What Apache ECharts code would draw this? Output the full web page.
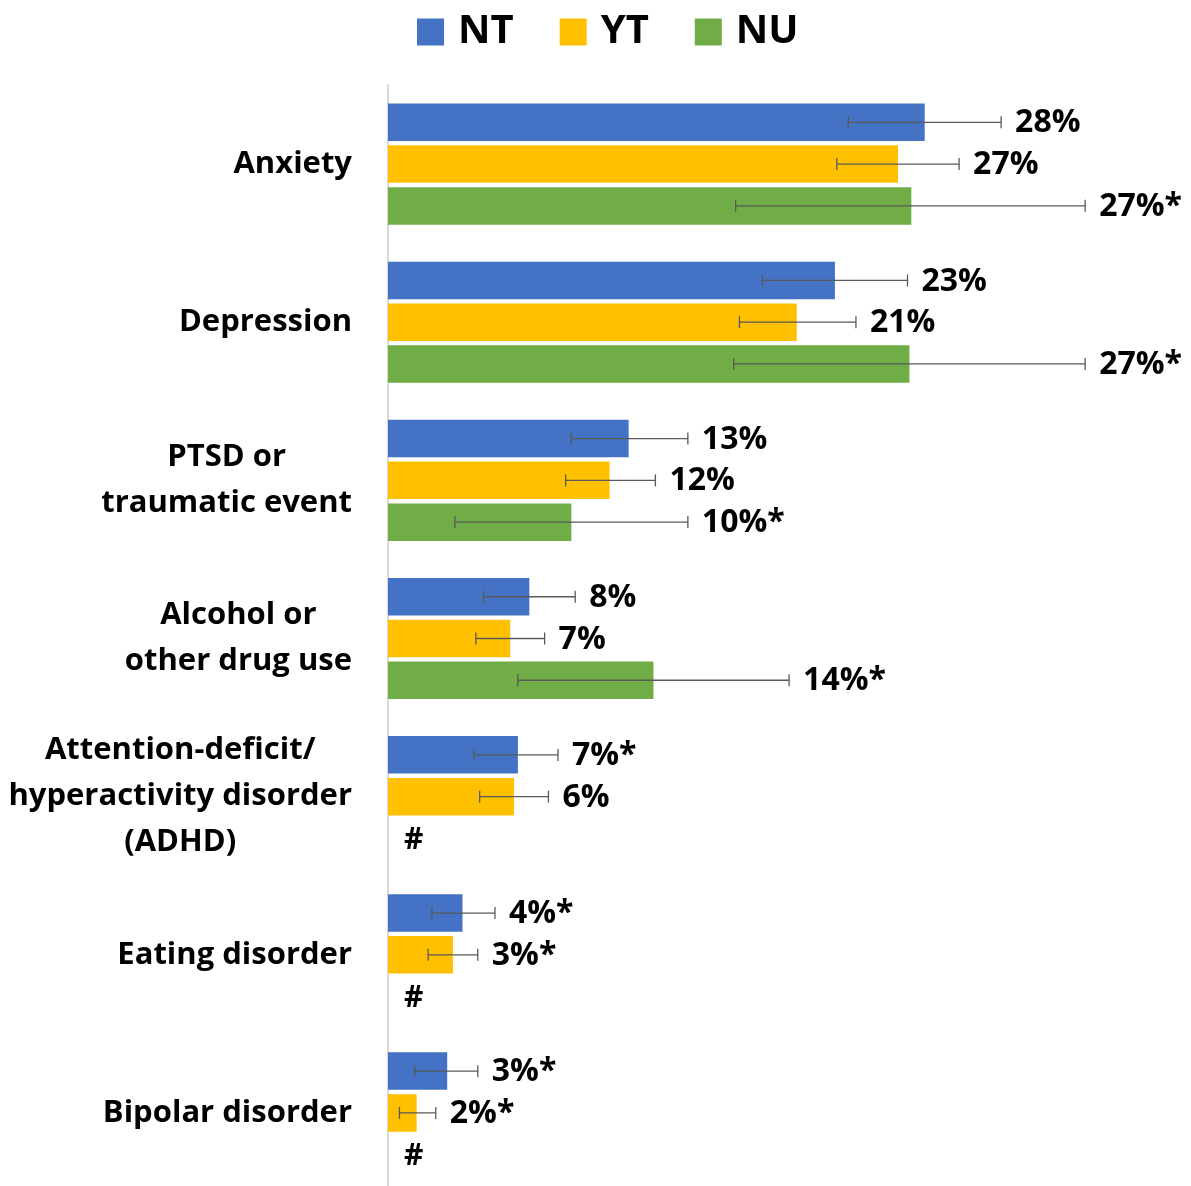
<!DOCTYPE html>
<html>
<head>
    <meta charset="utf-8">
    <title>Mental health conditions by territory</title>
    <script src="https://cdn.jsdelivr.net/npm/echarts@6.0.0/dist/echarts.min.js"></script>
    <style>
        html, body { margin: 0; padding: 0; background: #fff; }
        #chart { width: 1191px; height: 1186px; }
    </style>
</head>
<body>
    <div id="chart"></div>
    <script>
        // categories, top to bottom
        var categories = ['Anxiety', 'Depression', 'PTSD or\ntraumatic event', 'Alcohol or\nother drug use',
            'Attention-deficit/\nhyperactivity disorder\n(ADHD)', 'Eating disorder', 'Bipolar disorder'];
        var seriesNames = ['NT', 'YT', 'NU'];

        // bar values (%)
        var ntValues = [28.1, 23.4, 12.6, 7.4, 6.8, 3.9, 3.1];
        var ytValues = [26.7, 21.4, 11.6, 6.4, 6.6, 3.4, 1.5];
        var nuValues = [27.4, 27.3, 9.6, 13.9, null, null, null];

        // confidence intervals (%)
        var ntLow = [24.1, 19.6, 9.6, 5.0, 4.5, 2.3, 1.4];
        var ntHigh = [32.1, 27.2, 15.7, 9.8, 8.9, 5.6, 4.7];
        var ytLow = [23.5, 18.4, 9.3, 4.6, 4.8, 2.1, 0.6];
        var ytHigh = [29.9, 24.5, 14.0, 8.2, 8.4, 4.7, 2.5];
        var nuLow = [18.2, 18.1, 3.5, 6.8, null, null, null];
        var nuHigh = [36.5, 36.5, 15.7, 21.0, null, null, null];

        // value labels
        var ntLabels = ['28%', '23%', '13%', '8%', '7%*', '4%*', '3%*'];
        var ytLabels = ['27%', '21%', '12%', '7%', '6%', '3%*', '2%*'];
        var nuLabels = ['27%*', '27%*', '10%*', '14%*', '#', '#', '#'];

        var colors = ['#4472C4', '#FFC000', '#70AD47'];
        var FONT = '"Open Sans", "DejaVu Sans", sans-serif';

        var chart = echarts.init(document.getElementById('chart'));

        // error bars + labels drawn on top of the bars
        function errorSeries(name, slot, low, high, labels) {
            var data = categories.map(function (c, i) {
                return [i, low[i] == null ? 0 : low[i], high[i] == null ? 0 : high[i]];
            });
            return {
                type: 'custom',
                name: name + ' err',
                z: 5,
                silent: true,
                encode: { x: [1, 2], y: 0 },
                data: data,
                renderItem: function (params, api) {
                    var i = api.value(0);
                    var band = api.size([0, 1])[1];
                    var yc = api.coord([0, i])[1] + slot * band * 0.264;
                    var x0 = api.coord([0, i])[0];
                    var txtStyle = {
                        fill: '#000', font: 'bold 32px ' + FONT,
                        verticalAlign: 'middle', align: 'left'
                    };
                    if (low[i] == null) {
                        // no estimate for this territory
                        return {
                            type: 'text',
                            style: Object.assign({ x: x0 + 16, y: yc + 2, text: labels[i] }, txtStyle, { font: 'bold 30px ' + FONT })
                        };
                    }
                    var xl = api.coord([api.value(1), i])[0];
                    var xh = api.coord([api.value(2), i])[0];
                    var ls = { stroke: '#595959', lineWidth: 1.3 };
                    return {
                        type: 'group',
                        children: [
                            { type: 'line', shape: { x1: xl, y1: yc, x2: xh, y2: yc }, style: ls },
                            { type: 'line', shape: { x1: xl, y1: yc - 6, x2: xl, y2: yc + 6 }, style: ls },
                            { type: 'line', shape: { x1: xh, y1: yc - 6, x2: xh, y2: yc + 6 }, style: ls },
                            { type: 'text', style: Object.assign({ x: xh + 14, y: yc + 1, text: labels[i] }, txtStyle) }
                        ]
                    };
                }
            };
        }

        var option = {
            animation: false,
            color: colors,
            legend: {
                data: seriesNames,
                left: 412,
                top: 7,
                icon: 'rect',
                itemWidth: 27,
                itemHeight: 27,
                itemGap: 46,
                textStyle: {
                    fontSize: 40, fontWeight: 'bold', fontFamily: FONT, color: '#000',
                    padding: [0, 0, 0, 9]
                }
            },
            grid: {
                left: 388,
                top: 85,
                width: 764,
                height: 1107,
                outerBoundsMode: 'none'
            },
            xAxis: {
                type: 'value',
                min: 0,
                max: 40,
                show: false,
                splitLine: { show: false }
            },
            yAxis: {
                type: 'category',
                inverse: true,
                data: categories,
                axisLine: { lineStyle: { color: '#D9D9D9', width: 2 } },
                axisTick: { length: 12, lineStyle: { color: '#D9D9D9', width: 2 } },
                axisLabel: {
                    margin: 36,
                    formatter: function (v) {
                        return v.split('\n').map(function (l) { return '{c|' + l + '}'; }).join('\n');
                    },
                    rich: {
                        c: {
                            align: 'center', fontSize: 31, fontWeight: 'bold',
                            fontFamily: FONT, color: '#000', lineHeight: 46
                        }
                    }
                }
            },
            series: [
                { name: 'NT', type: 'bar', data: ntValues, barWidth: 37.5, barGap: '11.5%' },
                { name: 'YT', type: 'bar', data: ytValues, barWidth: 37.5, barGap: '11.5%' },
                { name: 'NU', type: 'bar', data: nuValues, barWidth: 37.5, barGap: '11.5%' },
                errorSeries('NT', -1, ntLow, ntHigh, ntLabels),
                errorSeries('YT', 0, ytLow, ytHigh, ytLabels),
                errorSeries('NU', 1, nuLow, nuHigh, nuLabels)
            ]
        };

        chart.setOption(option);
    </script>
</body>
</html>
